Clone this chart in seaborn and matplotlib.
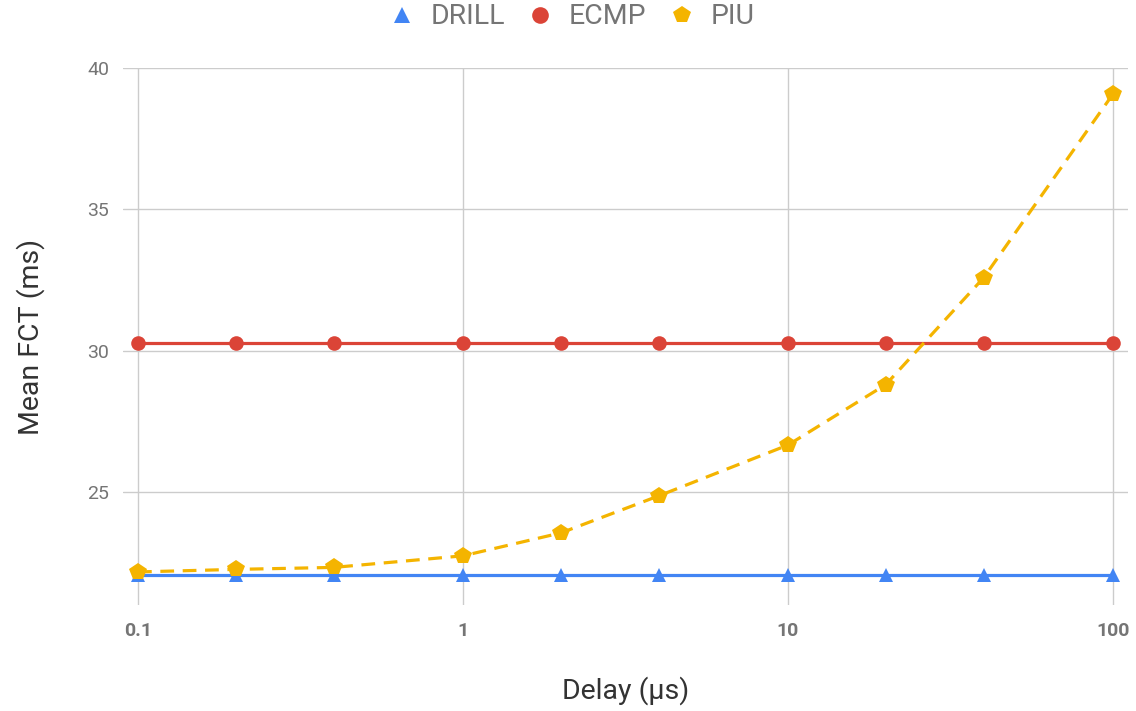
import matplotlib
matplotlib.use("Agg")
import matplotlib.pyplot as plt
import seaborn as sns
import pandas as pd
import numpy as np
from matplotlib.lines import Line2D

delays = [0.1, 0.2, 0.4, 1, 2, 4, 10, 20, 40, 100]
drill = [22.06, 22.06, 22.06, 22.06, 22.06, 22.06, 22.06, 22.06, 22.06, 22.06]
ecmp = [30.28, 30.28, 30.28, 30.28, 30.28, 30.28, 30.28, 30.28, 30.28, 30.28]
piu = [22.17, 22.26, 22.33, 22.74, 23.55, 24.86, 26.66, 28.8, 32.58, 39.08]
series = ["DRILL", "ECMP", "PIU"]
y_ticks = [25, 30, 35, 40]
x_ticks = [0.1, 1, 10, 100]
x_ticklabels = ["0.1", "1", "10", "100"]

df = pd.DataFrame({
    "Delay": delays * 3,
    "FCT": drill + ecmp + piu,
    "Series": [s for s in series for _ in delays],
})

sns.set_theme(style="white")
plt.rcParams['font.family'] = ['Roboto', 'DejaVu Sans']

fig = plt.figure(figsize=(11.36, 7.11), dpi=100)
ax = fig.add_axes([123/1136, 1 - 605/711, (1128-123)/1136, (605-68)/711])

palette = {"DRILL": "#4285F4", "ECMP": "#DB4437", "PIU": "#F4B400"}
markers = {"DRILL": "^", "ECMP": "o", "PIU": "p"}
dashes = {"DRILL": "", "ECMP": "", "PIU": (4.3, 2.7)}
msizes = {"^": 10, "o": 10.5, "p": 13}

sns.lineplot(data=df, x="Delay", y="FCT", hue="Series", style="Series",
             palette=palette, markers=markers, dashes=dashes,
             linewidth=2.3, markersize=11, markeredgewidth=0, ax=ax, legend=False, zorder=3)
for line in ax.get_lines():
    m = line.get_marker()
    if m in msizes:
        line.set_markersize(msizes[m])

ax.set_xscale("log")
pad = 10 ** (15 / 325)
ax.set_xlim(0.1 / pad, 100 * pad)
ax.set_ylim(21, 40)
ax.set_xticks(x_ticks)
ax.set_xticklabels(x_ticklabels)
ax.minorticks_off()
ax.set_yticks(y_ticks)
ax.tick_params(axis="both", length=0, colors="#757575", labelsize=14)
ax.tick_params(axis="x", pad=12)
ax.tick_params(axis="y", pad=10)
for t in ax.get_xticklabels():
    t.set_fontweight("bold")

ax.grid(True, color="#cccccc", linewidth=1)
ax.set_axisbelow(True)
for s in ax.spines.values():
    s.set_visible(False)

ax.set_xlabel("Delay (μs)", fontsize=20.5, color="#333333", labelpad=26)
ax.set_ylabel("Mean FCT (ms)", fontsize=20.5, color="#333333", labelpad=30)

handles = [Line2D([], [], linestyle="none", marker=markers[s], color=palette[s],
                  markersize={"DRILL": 11, "ECMP": 12, "PIU": 13}[s], markeredgewidth=0) for s in series]
leg = fig.legend(handles, series, loc="center", bbox_to_anchor=(0.5, 1 - 17/711), ncol=3,
                 frameon=False, fontsize=20.5, handletextpad=0.3, columnspacing=0.55,
                 handlelength=1.4, labelcolor="#757575")

fig.savefig("out.png", dpi=100)
